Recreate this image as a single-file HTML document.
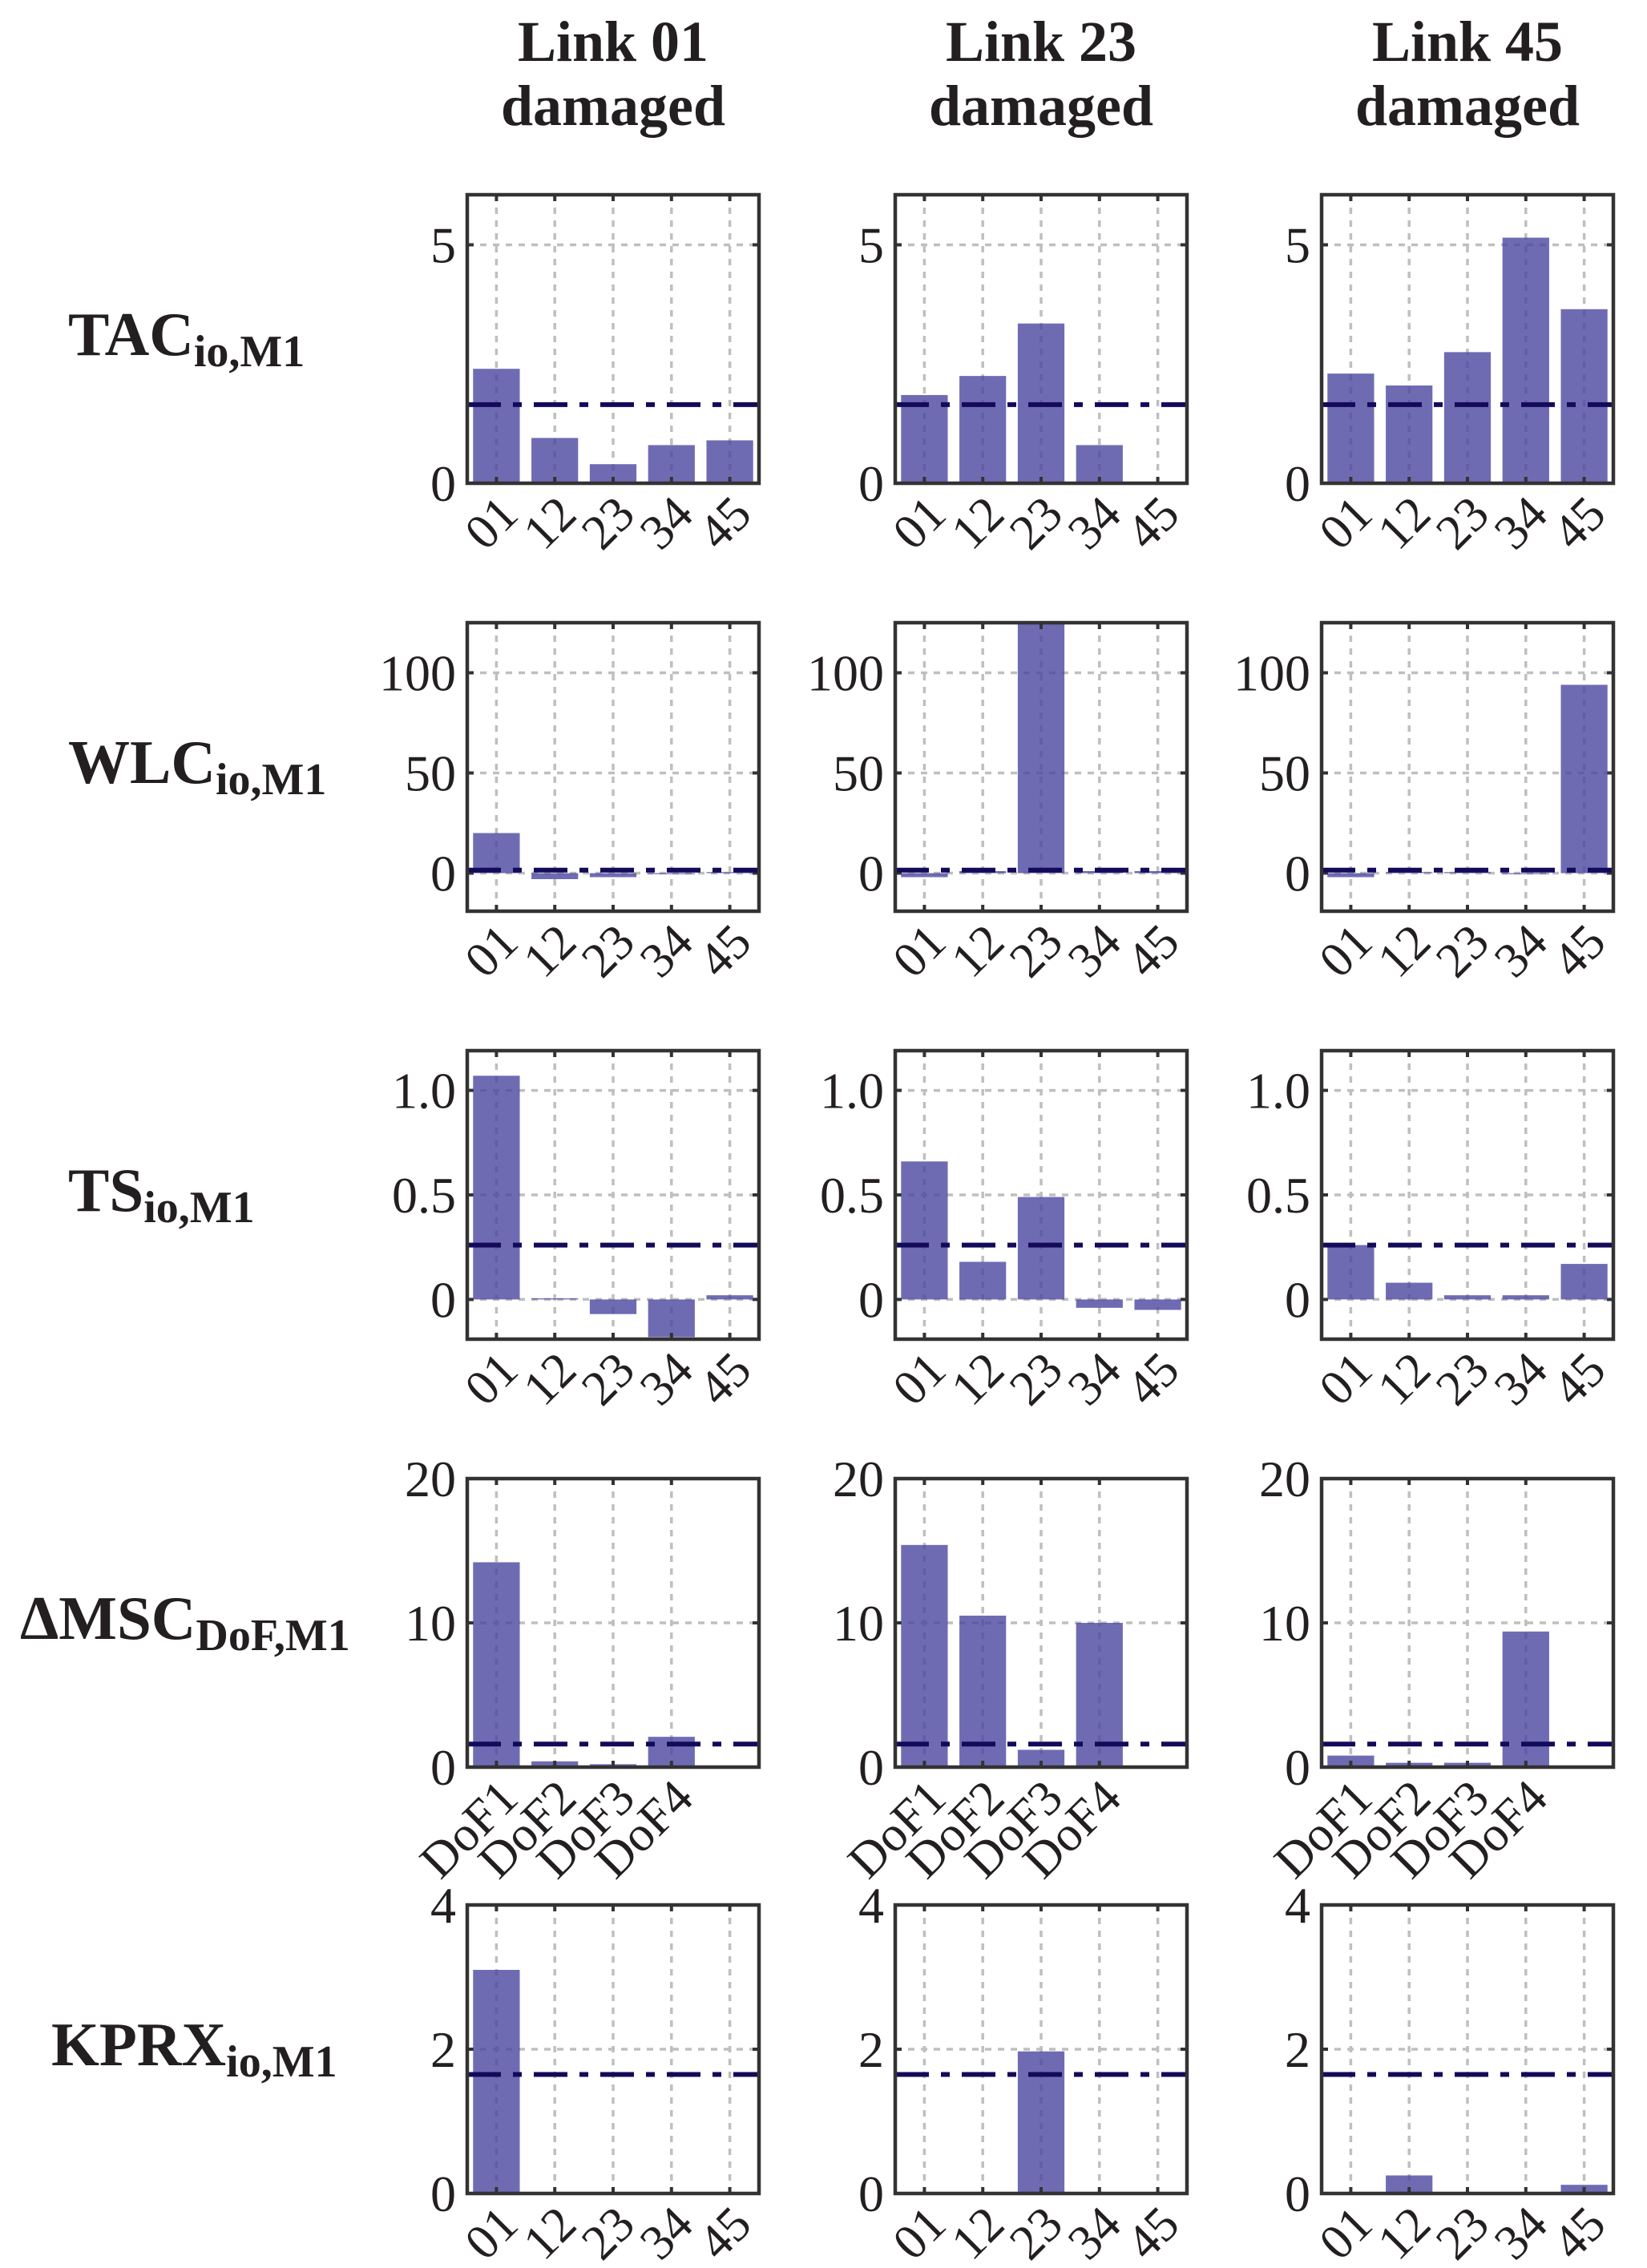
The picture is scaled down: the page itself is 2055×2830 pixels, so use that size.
<!DOCTYPE html>
<html><head><meta charset="utf-8"><style>
html,body{margin:0;padding:0;background:#fff;}
svg{display:block;font-family:"Liberation Serif",serif;}
</style></head><body>
<svg id="fig" width="2055" height="2830" viewBox="0 0 2055 2830" xmlns="http://www.w3.org/2000/svg"></svg>
<script>
// ---- data ----
const linkCats = ["01","12","23","34","45"];
const dofCats = ["DoF1","DoF2","DoF3","DoF4"];
const colTitles = ["Link 01","Link 23","Link 45"];
const rowNames = ["TAC","WLC","TS","ΔMSC","KPRX"];
const rowSubs = ["io,M1","io,M1","io,M1","DoF,M1","io,M1"];
const yTickVals = [[0,5],[0,50,100],[0,0.5,1.0],[0,10,20],[0,2,4]];
const yTickLabels = [["0","5"],["0","50","100"],["0","0.5","1.0"],["0","10","20"],["0","2","4"]];
const yMins = [0,-19,-0.19,0,0];
const yMaxs = [6.05,125,1.19,20,4.0];
const thresholds = [1.65,1.5,0.26,1.6,1.65];
const tacVals = [[2.4,0.95,0.4,0.8,0.9],[1.85,2.25,3.35,0.8,0.03],[2.3,2.05,2.75,5.15,3.65]];
const wlcVals = [[20,-3,-2,-0.5,0.5],[-2,1,135,1,1],[-2,0.5,0.5,-0.5,94]];
const tsVals = [[1.07,0.005,-0.07,-0.18,0.02],[0.66,0.18,0.49,-0.04,-0.05],[0.26,0.08,0.02,0.02,0.17]];
const msVals = [[14.2,0.4,0.2,2.1],[15.4,10.5,1.2,10.0],[0.8,0.3,0.3,9.4]];
const kprxVals = [[3.1,0,0,0.01,0],[0,0,1.97,0,0],[0,0.25,0,0,0.12]];
const rowVals = [tacVals,wlcVals,tsVals,msVals,kprxVals];
const rowCats = [linkCats,linkCats,linkCats,dofCats,linkCats];

// ---- layout ----
const colX = [583,1117,1649];
const rowY = [243,777,1311,1845,2377];
const W = 364, H = 360;
const NS = "http://www.w3.org/2000/svg";
const svg = document.getElementById('fig');
function mk(tag, attrs, parent){
  const e = document.createElementNS(NS, tag);
  for (const k in attrs) e.setAttribute(k, attrs[k]);
  (parent||svg).appendChild(e);
  return e;
}
const ink = "#231f20";

colTitles.forEach((t,c)=>{
  const cx = colX[c]+W/2;
  const g = mk('text',{x:cx,y:76,'text-anchor':'middle','font-size':72,'font-weight':'bold',fill:ink});
  
  
  const s1 = mk('tspan',{x:cx,y:76},g); s1.textContent = t;
  const s2 = mk('tspan',{x:cx,y:156},g); s2.textContent = 'damaged';
});

const rowLabelX = [85,85,85,25,64];
rowNames.forEach((n,r)=>{
  const cy = rowY[r]+H/2;
  const t = mk('text',{x:rowLabelX[r],y:cy+20,'font-size':77,'font-weight':'bold',fill:ink});
  
  
  const a = mk('tspan',{},t); a.textContent = n;
  const b = mk('tspan',{'font-size':56,dy:14},t); b.textContent = rowSubs[r];
});

for (let r=0;r<5;r++){
  for (let c=0;c<3;c++){
    const x0 = colX[c], y0 = rowY[r];
    const ymin = yMins[r], ymax = yMaxs[r];
    const cats = rowCats[r];
    const vals = rowVals[r][c];
    const xs = i => x0 + (i+0.5)/5*W;
    const ys = v => y0 + H - (v-ymin)/(ymax-ymin)*H;
    const g = mk('g',{});
    
    
    const cid = 'clip'+r+'_'+c;
    const cp = mk('clipPath',{id:cid},g);
    mk('rect',{x:x0,y:y0,width:W,height:H},cp);
    cats.forEach((cat,i)=>{
      const l = mk('line',{x1:xs(i),x2:xs(i),y1:y0,y2:y0+H,stroke:'#bfbfbf','stroke-width':3.5,'stroke-dasharray':'8 8'},g);
      
      
    });
    yTickVals[r].forEach((v,k)=>{
      const y = ys(v);
      if (y < y0+H-2 && y > y0+2){
        const l = mk('line',{x1:x0,x2:x0+W,y1:y,y2:y,stroke:'#bfbfbf','stroke-width':3.5,'stroke-dasharray':'8 8'},g);
        
        
      }
      const tl = mk('text',{x:x0-14,y:y+22,'text-anchor':'end','font-size':64,fill:ink},g);
      
      
      tl.textContent = yTickLabels[r][k];
      mk('line',{x1:x0,x2:x0+8,y1:y,y2:y,stroke:'#333','stroke-width':4},g);
      mk('line',{x1:x0+W-8,x2:x0+W,y1:y,y2:y,stroke:'#333','stroke-width':4},g);
    });
    const bg = mk('g',{'clip-path':'url(#'+cid+')'},g);
    vals.forEach((v,i)=>{
      const yv = ys(v), yz = ys(0);
      const b = mk('rect',{x:xs(i)-0.4/5*W,width:0.8/5*W,y:Math.min(yv,yz),height:Math.abs(yz-yv),fill:'#4b46a0','fill-opacity':0.8},bg);
      
      
    });
    const th = mk('line',{x1:x0,x2:x0+W,y1:ys(thresholds[r]),y2:ys(thresholds[r]),stroke:'#140a5a','stroke-width':6,'stroke-dasharray':'42 15 11 15'},g);
    
    
    cats.forEach((cat,i)=>{
      mk('line',{x1:xs(i),x2:xs(i),y1:y0+H-8,y2:y0+H,stroke:'#333','stroke-width':4},g);
      mk('line',{x1:xs(i),x2:xs(i),y1:y0,y2:y0+8,stroke:'#333','stroke-width':4},g);
      const lx = xs(i)+30, ly = y0+H+42;
      const t = mk('text',{x:lx,y:ly,'text-anchor':'end','font-size':62,fill:ink,transform:'rotate(-45 '+lx+' '+ly+')'},g);
      
      
      t.textContent = cat;
    });
    const f = mk('rect',{x:x0,y:y0,width:W,height:H,fill:'none',stroke:'#333','stroke-width':4.5},g);
    
    
  }
}
</script>
</body></html>
